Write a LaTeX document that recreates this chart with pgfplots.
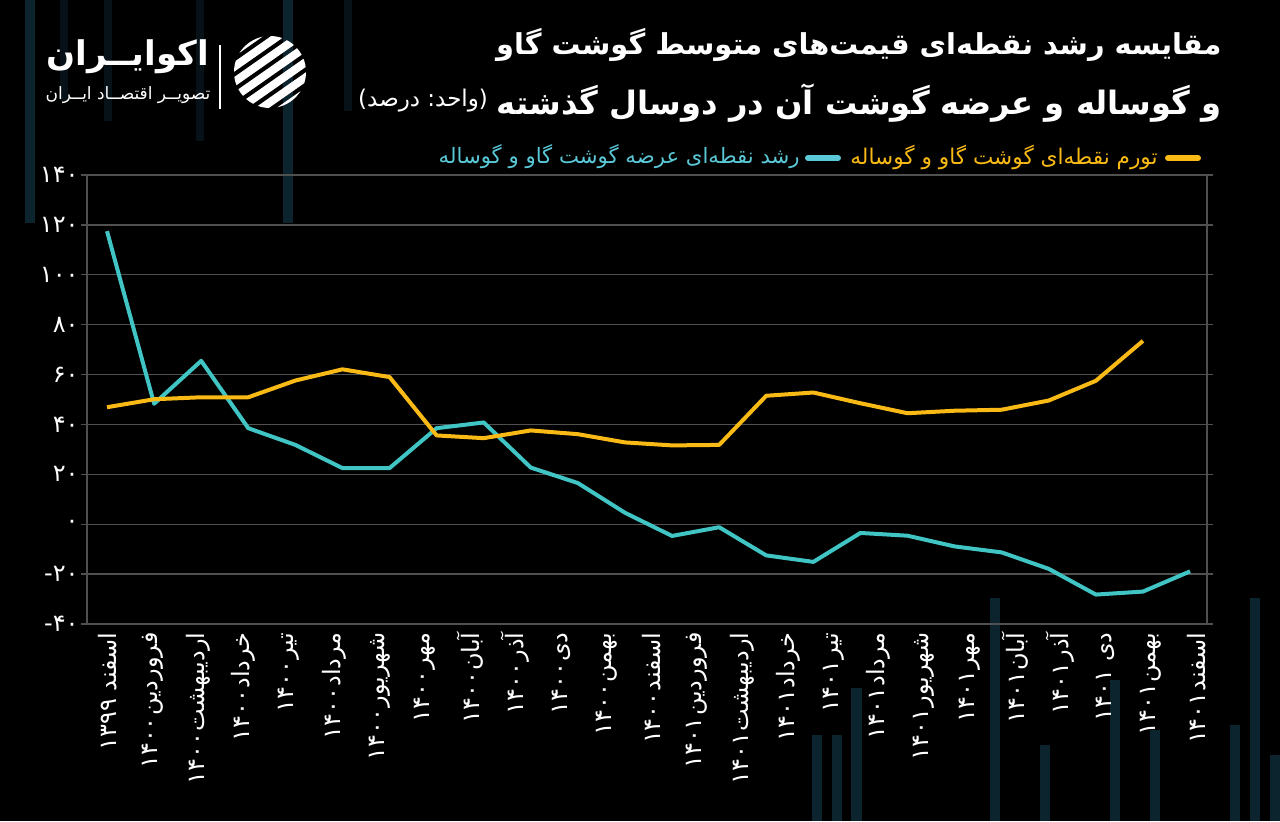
\documentclass[border=0pt]{standalone}
\usepackage{fontspec}
\usepackage{pgfplots}
\pgfplotsset{compat=1.18}
\TeXXeTstate=1
\setmainfont{DejaVu Sans}
\newfontfamily\arabicfont[Script=Arabic]{DejaVu Sans}
\definecolor{gold}{RGB}{250,186,22}
\definecolor{tealc}{RGB}{64,196,196}
\definecolor{legteal}{RGB}{90,200,215}
\definecolor{gridc}{RGB}{80,80,80}
\definecolor{decor}{RGB}{12,36,46}
\newcommand{\ml}[2]{\beginR #1\kern0.6pt #2\endR}
\newcommand{\mls}[2]{\beginR #1 #2\endR}
\newcommand{\negn}[1]{\hbox{\normalfont -}\hbox{#1}}
\pgfplotstableread{
x y
0 46.9
1 50.1
2 50.9
3 50.9
4 57.6
5 62.1
6 59.0
7 35.6
8 34.5
9 37.6
10 36.1
11 32.8
12 31.6
13 31.8
14 51.5
15 52.8
16 48.5
17 44.5
18 45.5
19 45.9
20 49.6
21 57.5
22 73.5
}\pricetbl
\pgfplotstableread{
x y
0 117.5
1 48.3
2 65.5
3 38.5
4 31.8
5 22.5
6 22.5
7 38.5
8 40.8
9 22.7
10 16.5
11 4.6
12 -4.7
13 -1.2
14 -12.5
15 -15.1
16 -3.5
17 -4.6
18 -8.9
19 -11.3
20 -17.9
21 -28.2
22 -27.0
23 -18.9
}\supplytbl
\begin{document}
\begin{tikzpicture}[x=1pt,y=1pt]
\fill[black] (0,0) rectangle (640,410.5);
\path[use as bounding box] (0,0) rectangle (640,410.5);
% decorative background bars
\fill[decor] (12.5,299) rectangle (17.5,410.5);
\fill[decor] (141.5,299) rectangle (146.5,410.5);
\fill[decor!50!black] (30,360) rectangle (34,410.5);
\fill[decor!50!black] (52,350) rectangle (56,410.5);
\fill[decor!50!black] (98,340) rectangle (102,410.5);
\fill[decor!50!black] (172,355) rectangle (176,410.5);
\fill[decor] (406,0) rectangle (411,43);
\fill[decor] (416,0) rectangle (421,43);
\fill[decor] (425.5,0) rectangle (431,66.5);
\fill[decor] (495,0) rectangle (500,111.5);
\fill[decor] (520,0) rectangle (525,38);
\fill[decor] (555,0) rectangle (560,70.5);
\fill[decor] (575,0) rectangle (580,45.5);
\fill[decor] (615,0) rectangle (620,48);
\fill[decor] (625,0) rectangle (630,111.5);
\fill[decor] (635,0) rectangle (640,33);
% logo
\node[text=white, inner sep=0pt, font=\arabicfont\bfseries\fontsize{17}{17}\selectfont] at (64,382) {اکوایــران};
\node[text=white, inner sep=0pt, font=\arabicfont\fontsize{8.5}{8.5}\selectfont] at (64,363) {\beginR تصویــر اقتصــاد ایــران\endR};
\draw[white, line width=0.6pt] (110,356) -- (110,388);
\begin{scope}
\clip (135,374.5) circle (18);
\foreach \i in {-3,...,3}{
  \fill[white, rotate around={35:(135,374.5)}] (110,{374.5+\i*6.2-2}) rectangle (160,{374.5+\i*6.2+2});
}
\end{scope}
% title
\node[anchor=east, inner sep=0pt, text=white, font=\arabicfont\bfseries\fontsize{14.4}{14.4}\selectfont] at (611,388)
  {\beginR مقایسه رشد نقطه^^^^200cای قیمت^^^^200cهای متوسط گوشت گاو\endR};
\node[anchor=east, inner sep=0pt, text=white, font=\arabicfont\bfseries\fontsize{16.1}{16.1}\selectfont] (t2) at (611,359)
  {\beginR و گوساله و عرضه گوشت آن در دوسال گذشته\endR};
\node[anchor=east, text=white, font=\arabicfont\fontsize{11.5}{11.5}\selectfont, inner sep=0pt] at ([xshift=-4pt,yshift=1pt]t2.west)
  {\hbox{\normalfont(}\hbox{درصد}\ \hbox{:}\hbox{واحد}\hbox{\normalfont)}};
% legend
\draw[gold, line width=3pt, line cap=round] (584,331.5) -- (599,331.5);
\node[anchor=east, inner sep=0pt, text=gold, font=\arabicfont\fontsize{10.8}{10.8}\selectfont] at (579,332)
  {\beginR تورم نقطه^^^^200cای گوشت گاو و گوساله\endR};
\draw[legteal, line width=3pt, line cap=round] (404,331.5) -- (419,331.5);
\node[anchor=east, inner sep=0pt, text=legteal, font=\arabicfont\fontsize{10.6}{10.6}\selectfont] at (400,332)
  {\beginR رشد نقطه^^^^200cای عرضه گوشت گاو و گوساله\endR};
\begin{axis}[
  at={(43.5pt,98.5pt)}, anchor=south west, scale only axis,
  width=560pt, height=224.5pt,
  xmin=-0.425, xmax=23.36, ymin=-40, ymax=140,
  axis line style={gridc, line width=0.7pt},
  ymajorgrids, grid style={gridc, line width=0.7pt},
  ytick={-40,-20,0,20,40,60,80,100,120,140},
  yticklabels={{\negn{۴۰}},{\negn{۲۰}},۰,۲۰,۴۰,۶۰,۸۰,۱۰۰,۱۲۰,۱۴۰},
  tick align=outside, major tick length=3pt,
  ytick style={gridc, line width=0.7pt},
  xtick style={draw=none},
  yticklabel style={text=white, font=\arabicfont\fontsize{12}{12}\selectfont, inner sep=1pt},
  xtick={-0.185,0.7785,1.742,2.7055,3.669,4.6325,5.596,6.5595,7.523,8.4865,9.45,10.4135,11.377,12.3405,13.304,14.2675,15.231,16.1945,17.158,18.1215,19.085,20.0485,21.012,21.9755,22.939},
  xticklabels={
    {\mls{اسفند}{۱۳۹۹}},{\ml{فروردین}{۱۴۰۰}},{\ml{اردیبهشت}{۱۴۰۰}},{\ml{خرداد}{۱۴۰۰}},{\ml{تیر}{۱۴۰۰}},
    {\ml{مرداد}{۱۴۰۰}},{\ml{شهریور}{۱۴۰۰}},{\ml{مهر}{۱۴۰۰}},{\ml{آبان}{۱۴۰۰}},{\ml{آذر}{۱۴۰۰}},
    {\ml{دی}{۱۴۰۰}},{\ml{بهمن}{۱۴۰۰}},{\ml{اسفند}{۱۴۰۰}},{\ml{فروردین}{۱۴۰۱}},{\ml{اردیبهشت}{۱۴۰۱}},
    {\ml{خرداد}{۱۴۰۱}},{\ml{تیر}{۱۴۰۱}},{\ml{مرداد}{۱۴۰۱}},{\ml{شهریور}{۱۴۰۱}},{\ml{مهر}{۱۴۰۱}},
    {\ml{آبان}{۱۴۰۱}},{\ml{آذر}{۱۴۰۱}},{\mls{دی}{۱۴۰۱}},{\ml{بهمن}{۱۴۰۱}},{\ml{اسفند}{۱۴۰۱}}},
  xticklabel style={rotate=90, anchor=east, text=white, font=\arabicfont\fontsize{12}{12}\selectfont, inner sep=1pt, yshift=-4.5pt},
]
\addplot[tealc, line width=2pt, line join=round] table[x=x,y=y]{\supplytbl};
\addplot[gold, line width=2pt, line join=round] table[x=x,y=y]{\pricetbl};
\end{axis}
\end{tikzpicture}
\end{document}
